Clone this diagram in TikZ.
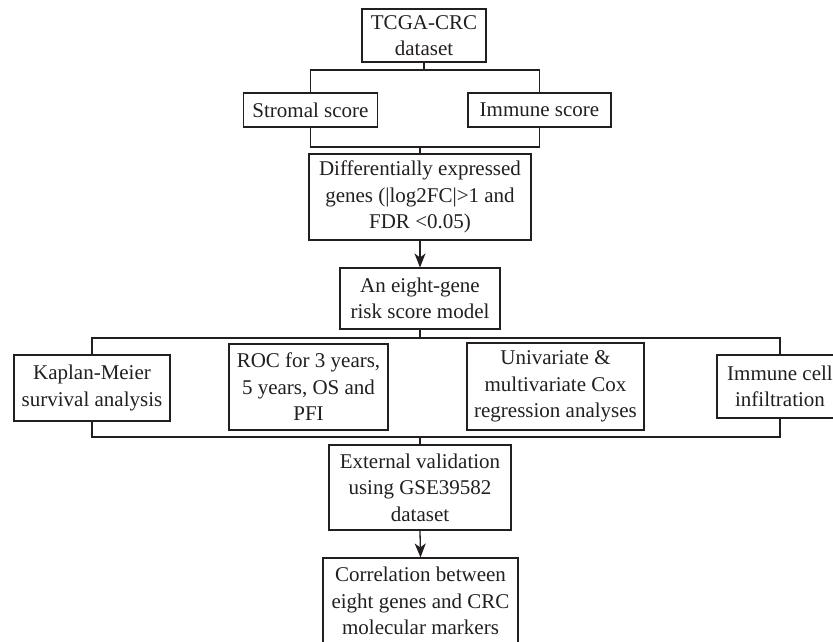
\documentclass[tikz,border=0pt]{standalone}
\usepackage{fontspec}
\setmainfont{Liberation Serif}
\usetikzlibrary{arrows.meta}
\definecolor{ink}{HTML}{231F20}
\begin{document}
\begin{tikzpicture}[x=1pt,y=-1pt,
  box/.style={draw=ink,line width=1.1pt,rectangle,inner sep=0pt,align=center,
    font=\fontsize{21}{26.5}\selectfont,text=ink},
  link/.style={draw=ink,line width=1.3pt},
  arr/.style={link,-{Stealth[length=14pt,width=11pt,inset=4pt]}}]
\useasboundingbox (0,0) rectangle (833,641);
\clip (0,0) rectangle (833,641);
\fill[white] (0,0) rectangle (833,641);
\node[box,minimum width=124pt,minimum height=53pt] (tcga) at (424,35.5) {TCGA-CRC\\dataset};
\node[box,minimum width=134pt,minimum height=34pt] (strom) at (310.5,110) {Stromal score};
\node[box,minimum width=143pt,minimum height=34pt] (immune) at (539.5,110) {Immune score};
\node[box,minimum width=222pt,minimum height=86pt] (deg) at (420,197) {Differentially expressed\\genes (|log2FC|>1 and\\FDR <0.05)};
\node[box,minimum width=160pt,minimum height=61pt] (eight) at (420,298.5) {An eight-gene\\risk score model};
\node[box,minimum width=156pt,minimum height=66pt] (km) at (92,388) {Kaplan-Meier\\survival analysis};
\node[box,minimum width=159pt,minimum height=86pt] (roc) at (308.5,387) {ROC for 3 years,\\5 years, OS and\\PFI};
\node[box,minimum width=177pt,minimum height=87pt] (uni) at (555.5,386.5) {Univariate \&\\multivariate Cox\\regression analyses};
\node[box,minimum width=126pt,minimum height=63pt] (icell) at (780,386.5) {Immune cell\\infiltration};
\node[box,minimum width=182pt,minimum height=85pt] (ext) at (420,487.5) {External validation\\using GSE39582\\dataset};
\node[box,minimum width=195pt,minimum height=86pt] (corr) at (420.5,601) {Correlation between\\eight genes and CRC\\molecular markers};
\coordinate (j1) at (310,70);
\coordinate (j2) at (310,147);
\coordinate (j3) at (92,338);
\coordinate (j4) at (92,437);
\draw[link] (tcga.south) -- (tcga.south |- j1);
\draw[link] (strom.north) -- (strom.north |- j1) -- (immune.north |- j1) -- (immune.north);
\draw[link] (strom.south) -- (strom.south |- j2) -- (immune.south |- j2) -- (immune.south);
\draw[link] (deg.north |- j2) -- (deg.north);
\draw[arr] (deg.south) -- (eight.north);
\draw[link] (eight.south) -- (eight.south |- j3);
\draw[link] (km.north) -- (km.north |- j3) -- (icell.north |- j3) -- (icell.north);
\draw[link] (km.south) -- (km.south |- j4) -- (icell.south |- j4) -- (icell.south);
\draw[link] (ext.north |- j4) -- (ext.north);
\draw[arr] (ext.south) -- (corr.north);
\end{tikzpicture}
\end{document}
